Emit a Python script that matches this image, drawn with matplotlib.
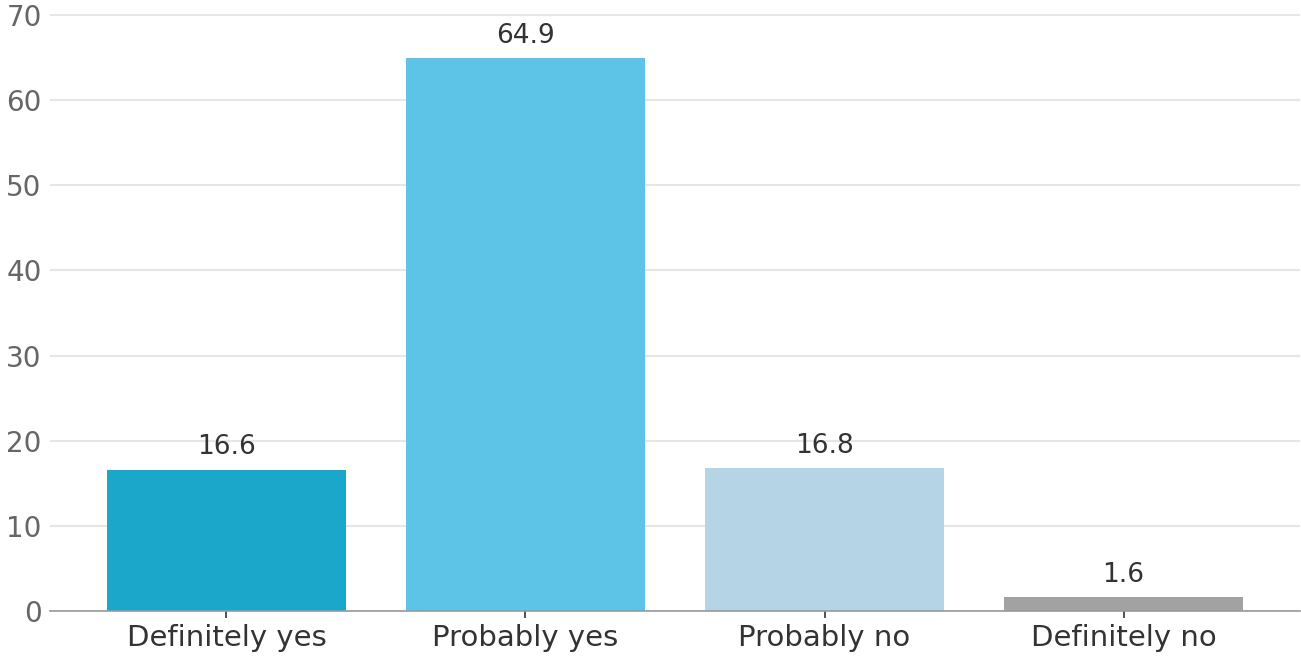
import matplotlib
matplotlib.use("Agg")
import matplotlib.pyplot as plt

categories = ["Definitely yes", "Probably yes", "Probably no", "Definitely no"]
values = [16.6, 64.9, 16.8, 1.6]
colors = ["#1aa7c9", "#5dc4e8", "#b5d5e6", "#a2a2a2"]
yticks = [0, 10, 20, 30, 40, 50, 60, 70]

fig = plt.figure(figsize=(13.01, 6.57), dpi=100)
ax = fig.add_axes([50 / 1301, 46 / 657, 1250 / 1301, 597 / 657])

x = range(len(categories))
bars = ax.bar(x, values, width=0.8, color=colors, zorder=3)

for b, v in zip(bars, values):
    ax.text(b.get_x() + b.get_width() / 2, v + 1.1, f"{v:.1f}",
            ha="center", va="bottom", fontsize=19, color="#333333")

ax.set_xlim(-0.59, 3.59)
ax.set_ylim(0, 70.1)
ax.set_yticks(yticks)
ax.set_xticks(list(x))
ax.set_xticklabels(categories)

ax.grid(axis="y", color="#e6e6e6", linewidth=1.5, zorder=0)
for s in ["top", "right", "left"]:
    ax.spines[s].set_visible(False)
ax.spines["bottom"].set_color("#999999")
ax.spines["bottom"].set_linewidth(1.2)
ax.spines["bottom"].set_zorder(4)

ax.tick_params(axis="y", length=0, labelsize=20, labelcolor="#666666", pad=6)
ax.tick_params(axis="x", length=5, width=1.2, color="#333333",
               labelsize=21, labelcolor="#333333", pad=4)

fig.savefig("out.png", dpi=100)
